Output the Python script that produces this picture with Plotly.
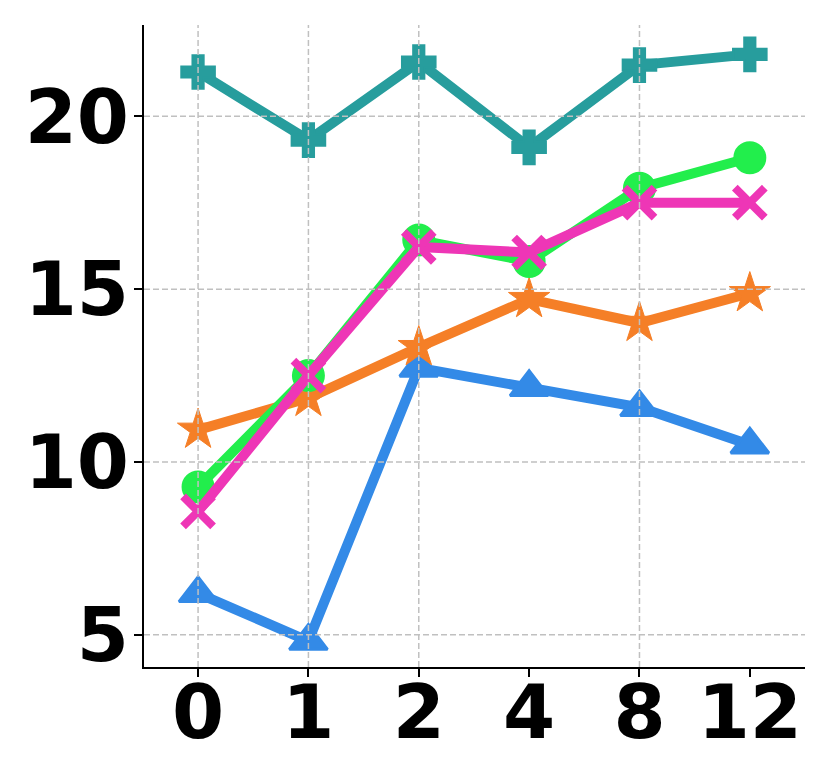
import plotly.graph_objects as go

steps = ["0", "1", "2", "4", "8", "12"]
y_ticks = [5, 10, 15, 20]

teal_vals = [21.28, 19.31, 21.57, 19.1, 21.48, 21.79]
green_vals = [9.28, 12.5, 16.42, 15.8, 17.92, 18.8]
orange_vals = [10.93, 11.85, 13.32, 14.71, 14.02, 14.88]
blue_vals = [6.2, 4.82, 12.72, 12.16, 11.58, 10.5]
pink_vals = [8.57, 12.5, 16.22, 16.06, 17.5, 17.5]

series = [
    (teal_vals, "#279D9D", "cross", 28, 2),
    (blue_vals, "#338AE7", "triangle-up", 33, 3),
    (orange_vals, "#F57F27", "star", 31, 1),
    (green_vals, "#22EE4C", "circle", 31, 2),
    (pink_vals, "#EE36B6", "x-thin", 30, 8),
]

fig = go.Figure()
for vals, color, symbol, size, lw in series:
    fig.add_trace(go.Scatter(
        x=steps, y=vals, mode="lines+markers",
        line=dict(color=color, width=10),
        marker=dict(symbol=symbol, size=size, color=color,
                    line=dict(color=color, width=lw)),
        showlegend=False,
    ))

# grid sits on top of the lines, like in the source
grid = dict(color="#c0c0c0", width=1.5, dash="6px,3px")
for s in steps:
    fig.add_shape(type="line", xref="x", yref="paper", x0=s, x1=s, y0=0, y1=1,
                  line=grid, layer="above")
for t in y_ticks:
    fig.add_shape(type="line", xref="paper", yref="y", x0=0, x1=1, y0=t, y1=t,
                  line=grid, layer="above")

tick_font = dict(family="DejaVu Sans", size=75, color="black", weight="bold")
axis_style = dict(
    showline=True, linecolor="black", linewidth=2,
    ticks="outside", ticklen=8, tickwidth=1.5, tickcolor="black",
    showgrid=False, zeroline=False, automargin=False, tickfont=tick_font,
)
# page body has an 8px margin, so the figure is a bit smaller than the window
fig.update_layout(
    width=822, height=773,
    margin=dict(l=136, r=25, t=17, b=114),
    paper_bgcolor="white", plot_bgcolor="white",
    xaxis=dict(type="category", range=[-0.49, 5.5], ticklabelstandoff=-29, **axis_style),
    yaxis=dict(range=[4.07, 22.64], tickvals=y_ticks, ticklabelstandoff=-10, **axis_style),
)

fig.write_html("out.html")
